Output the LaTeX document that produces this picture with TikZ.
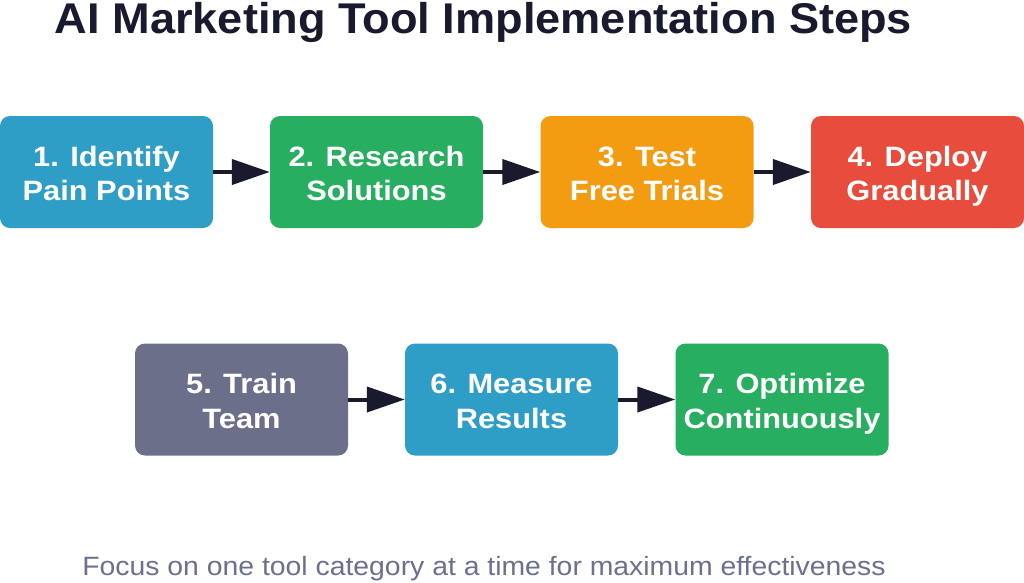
\documentclass[tikz,border=0pt]{standalone}
\usepackage{fontspec}
\setmainfont{Liberation Sans}
\newfontfamily\titlefont[FakeStretch=1.05]{Liberation Sans}
\newfontfamily\boxfont[FakeStretch=1.1]{Liberation Sans}
\newfontfamily\footfont[FakeStretch=1.07]{Liberation Sans}
\usetikzlibrary{arrows.meta}
\definecolor{cblue}{HTML}{2E9EC6}
\definecolor{cgreen}{HTML}{27AE60}
\definecolor{corange}{HTML}{F39C12}
\definecolor{cred}{HTML}{E74C3C}
\definecolor{cgray}{HTML}{6C6F8A}
\definecolor{cnavy}{HTML}{1A1A2E}
\definecolor{cfoot}{HTML}{6C708E}
\newcommand\topstrut{\rule{0pt}{30pt}}
\newcommand\botstrut{\rule[-7.5pt]{0pt}{7.5pt}}
\tikzset{
  stepbox/.style={rounded corners=10pt, minimum width=213pt, minimum height=112pt, inner sep=0pt,
    text=white, font=\boxfont\bfseries\fontsize{28}{34.5}\selectfont, align=center},
  flowarrow/.style={draw=cnavy, line width=4pt, -{Triangle[length=38pt,width=25pt]}},
}
\begin{document}
\begin{tikzpicture}[x=1pt,y=-1pt]
\useasboundingbox[fill=white] (0,0) rectangle (1024,582);
\node[anchor=base, text=cnavy, font=\titlefont\bfseries\fontsize{43}{50}\selectfont] (title) at (483.5,33) {AI Marketing Tool Implementation Steps};
\node[stepbox, fill=cblue] (b1) at (106.5,172) {\topstrut 1. Identify\\Pain Points\botstrut};
\node[stepbox, fill=cgreen] (b2) at (376.5,172) {\topstrut 2. Research\\Solutions\botstrut};
\node[stepbox, fill=corange] (b3) at (647,172) {\topstrut 3. Test\\Free Trials\botstrut};
\node[stepbox, fill=cred] (b4) at (917.5,172) {\topstrut 4. Deploy\\Gradually\botstrut};
\node[stepbox, fill=cgray] (b5) at (241.5,399.5) {\topstrut 5. Train\\Team\botstrut};
\node[stepbox, fill=cblue] (b6) at (511.5,399.5) {\topstrut 6. Measure\\Results\botstrut};
\node[stepbox, fill=cgreen] (b7) at (782,399.5) {\topstrut 7. Optimize\\Continuously\botstrut};
\draw[flowarrow] (b1.east) -- (b2.west);
\draw[flowarrow] (b2.east) -- (b3.west);
\draw[flowarrow] (b3.east) -- (b4.west);
\draw[flowarrow] (b5.east) -- (b6.west);
\draw[flowarrow] (b6.east) -- (b7.west);
\node[anchor=base, text=cfoot, font=\footfont\fontsize{26.5}{32}\selectfont] (foot) at (484,575) {Focus on one tool category at a time for maximum effectiveness};
\end{tikzpicture}
\end{document}
